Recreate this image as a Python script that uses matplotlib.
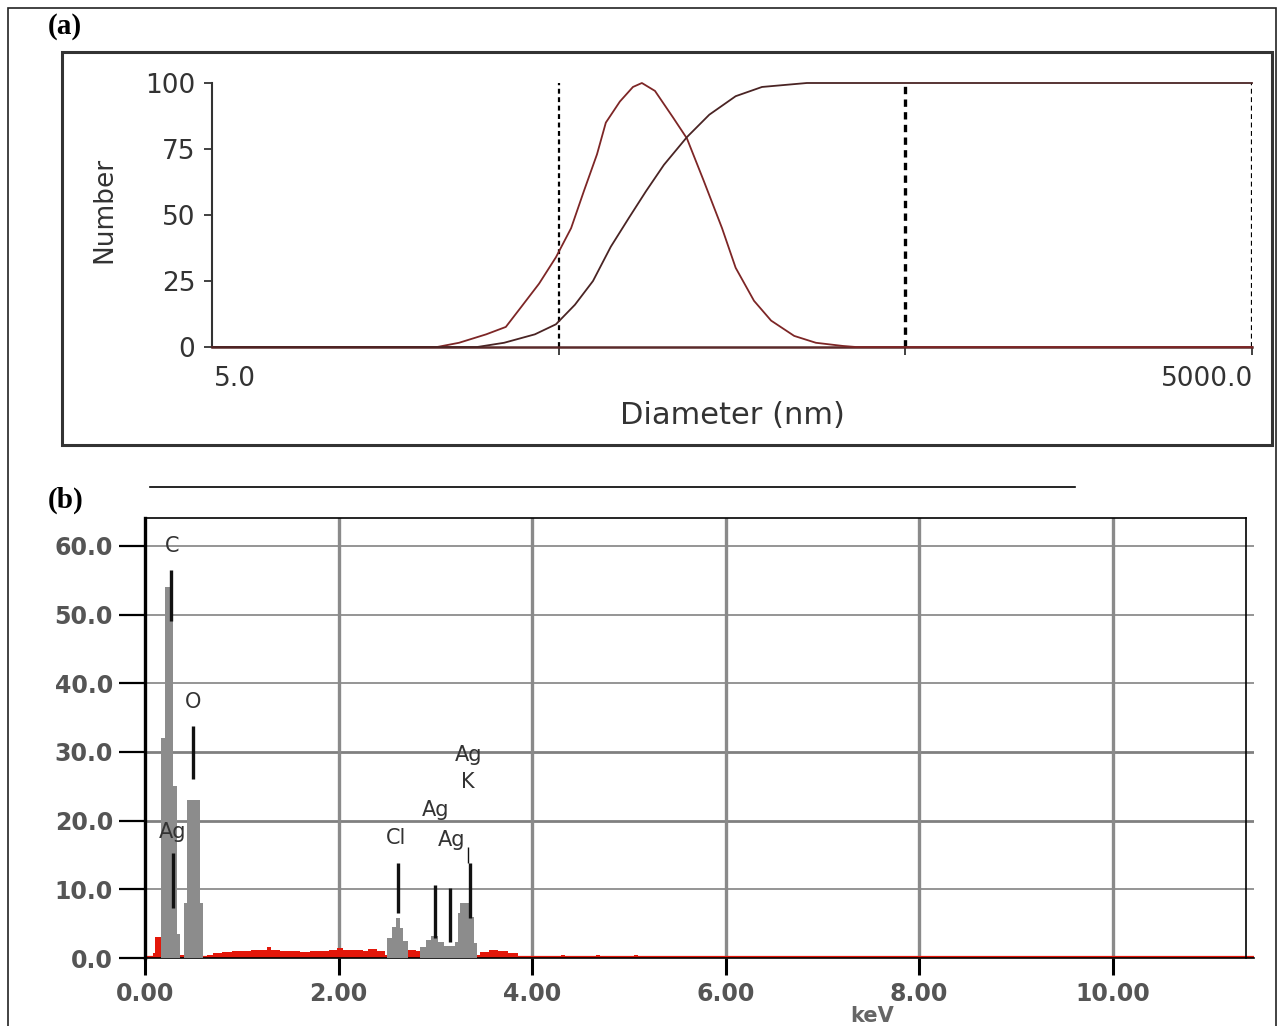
import matplotlib
matplotlib.use('Agg')
import matplotlib.pyplot as plt
from matplotlib.patches import Rectangle
from matplotlib.lines import Line2D
from matplotlib.ticker import NullLocator
import numpy as np

W, H, DPI = 1278, 1026, 100

# ---------------- data: (a) particle size distribution ----------------
dist_nm = [5.0, 22.3, 25.8, 30.9, 35.2, 38.9, 43.9, 49.1, 54.3, 59.1, 64.5, 68.4, 75.1,
           81.9, 86.9, 94.8, 106.8, 117.2, 131, 148, 162, 183, 205, 239, 276, 330, 360,
           5000.0]
dist_num = [0, 0, 1.6, 4.8, 7.6, 15, 24, 34, 45, 59, 73, 85, 93,
            98.5, 100, 97, 87, 79, 63, 45, 30, 17.5, 10, 4.2, 1.6, 0.4, 0, 0]
cum_nm = [5.0, 29.1, 34.8, 42.7, 49.1, 55.7, 62.8, 70.7, 79.8, 89.3, 100.6, 117.2,
          136, 162, 193, 260, 5000.0]
cum_pct = [0, 0, 1.6, 4.8, 8.6, 16, 25, 38, 49, 59, 69, 79.5, 88, 95, 98.5, 100, 100]
size_marks_nm = [50, 500, 5000]
a_yticks = [0, 25, 50, 75, 100]

# ---------------- data: (b) EDS spectrum ----------------
red_keV = [0.00, 0.08, 0.10, 0.17, 0.36, 0.60, 0.64, 0.70, 0.80, 0.90, 1.00, 1.10, 1.20,
           1.26, 1.30, 1.40, 1.50, 1.60, 1.70, 1.80, 1.90, 1.98, 2.05, 2.15, 2.25, 2.30,
           2.40, 2.48, 2.72, 2.80, 2.86, 3.43, 3.46, 3.55, 3.65, 3.75, 3.85, 3.95, 4.30,
           4.34, 4.66, 4.70, 5.05, 5.09, 11.46]
red_counts = [0.0, 0.8, 3.0, 0.6, 0.5, 0.3, 0.5, 0.7, 0.9, 1.0, 1.0, 1.1, 1.2,
              1.6, 1.2, 1.0, 1.0, 0.9, 1.0, 1.0, 1.1, 1.4, 1.2, 1.1, 1.0, 1.3,
              1.0, 0.4, 1.2, 1.0, 0.4, 0.4, 0.9, 1.1, 1.0, 0.8, 0.3, 0.15, 0.5,
              0.1, 0.5, 0.1, 0.5, 0.1, 0.1]
gray_left = [0.17, 0.21, 0.29, 0.33, 0.40, 0.43, 0.57, 2.50, 2.55, 2.59, 2.64, 2.67,
             2.84, 2.90, 2.96, 3.03, 3.09, 3.20, 3.23, 3.26, 3.36, 3.40]
gray_right = [0.21, 0.29, 0.33, 0.36, 0.43, 0.57, 0.60, 2.55, 2.59, 2.64, 2.67, 2.72,
              2.90, 2.96, 3.03, 3.09, 3.20, 3.23, 3.26, 3.36, 3.40, 3.43]
gray_height = [32, 54, 25, 3.5, 8, 23, 8, 2.9, 4.5, 5.8, 4.3, 2.5,
               1.6, 2.6, 3.2, 2.4, 1.7, 2.4, 6.5, 8.0, 6.0, 2.2]
mark_keV = [0.265, 0.29, 0.50, 2.61, 3.00, 3.15, 3.36]
mark_lo = [49, 7.3, 26, 6.5, 2.9, 2.4, 5.8]
mark_hi = [56.5, 15.3, 33.7, 13.8, 10.6, 10.2, 13.8]
thin_mark_keV = [3.335]
thin_mark_lo = [13.8]
thin_mark_hi = [16.2]
lbl_text = ['C', 'O', 'Ag', 'Cl', 'Ag', 'Ag', 'K', 'Ag']
lbl_keV = [0.28, 0.50, 0.29, 2.59, 3.17, 3.00, 3.34, 3.34]
lbl_y = [60.0, 37.3, 18.3, 17.5, 17.2, 21.5, 25.6, 29.5]
b_yticks = [0, 10, 20, 30, 40, 50, 60]
b_xticks = [0, 2, 4, 6, 8, 10]
b_xmax_box = 11.38


def fx(x):
    return x / W


def fy(y):
    return 1 - y / H


fig = plt.figure(figsize=(W / DPI, H / DPI), dpi=DPI)
fig.patch.set_facecolor('white')

# outer frame
fig.add_artist(Rectangle((fx(8), fy(1030)), fx(1276) - fx(8), fy(8) - fy(1030),
                         fill=False, lw=1.2, ec='#222222', transform=fig.transFigure))
# panel (a) box
fig.add_artist(Rectangle((fx(62), fy(445)), fx(1272) - fx(62), fy(52) - fy(445),
                         fill=False, lw=2.2, ec='#333333', transform=fig.transFigure))

fig.text(fx(48), fy(26), '(a)', family='Liberation Serif', weight='bold', size=21,
         ha='left', va='center')
fig.text(fx(48), fy(500), '(b)', family='Liberation Serif', weight='bold', size=21,
         ha='left', va='center')
fig.add_artist(Line2D([fx(150), fx(1075)], [fy(487), fy(487)], lw=1.2, color='black',
                      transform=fig.transFigure))

# ---------------- panel (a) ----------------
ax1 = fig.add_axes([fx(212), fy(347), (1252 - 212) / W, (347 - 83) / H])
ax1.set_xscale('log')
ax1.set_xlim(5, 5000)
ax1.set_ylim(0, 100)
for s in ['top', 'right']:
    ax1.spines[s].set_visible(False)
ax1.spines['left'].set_color('#333333')
ax1.spines['left'].set_linewidth(1.5)
ax1.spines['bottom'].set_color('#5a2a2a')
ax1.spines['bottom'].set_linewidth(1.8)

for xm, lw in zip(size_marks_nm, [1.6, 2.4, 1.6]):
    ax1.axvline(xm, color='black', lw=lw, ls=(0, (2.2, 1.6)), zorder=1)

ax1.plot(dist_nm, dist_num, color='#7d2626', lw=1.3, clip_on=False, zorder=3)
ax1.plot(cum_nm, cum_pct, color='#4a2424', lw=1.3, clip_on=False, zorder=3)

ax1.set_yticks(a_yticks)
ax1.set_yticklabels([str(v) for v in a_yticks])
ax1.tick_params(axis='y', length=6, width=1.3, color='#333333', labelsize=19,
                labelcolor='#333333', pad=6)
ax1.set_xticks(size_marks_nm)
ax1.set_xticklabels(['', '', ''])
ax1.xaxis.set_minor_locator(NullLocator())
ax1.tick_params(axis='x', length=6, width=1.3, color='#333333')

fig.text(fx(214), fy(379), '5.0', ha='left', va='center', size=19, color='#333333')
fig.text(fx(1253), fy(379), '5000.0', ha='right', va='center', size=19, color='#333333')
fig.text(fx(732), fy(415), 'Diameter (nm)', ha='center', va='center', size=22,
         color='#333333')
fig.text(fx(104), fy(210), 'Number', ha='center', va='center', size=19,
         color='#333333', rotation=90)

# ---------------- panel (b) ----------------
ax2 = fig.add_axes([fx(145), fy(958), (1254 - 145) / W, (958 - 518) / H])
ax2.set_xlim(0, 11.46)
ax2.set_ylim(0, 64.05)
for s in ['top', 'right']:
    ax2.spines[s].set_visible(False)
ax2.spines['left'].set_linewidth(2.4)
ax2.spines['left'].set_color('black')
ax2.spines['bottom'].set_linewidth(1.2)
ax2.spines['bottom'].set_color('black')

for v in b_yticks[1:]:
    ax2.axhline(v, color='#808080' if v in (20, 30) else '#959595',
                lw=2.0 if v in (20, 30) else 1.4, zorder=0)
for k in b_xticks[1:]:
    ax2.axvline(k, color='#8a8a8a', lw=2.4, zorder=0)

ax2.plot([0, b_xmax_box], [64.05, 64.05], color='black', lw=1.2, clip_on=False, zorder=5)
ax2.plot([b_xmax_box, b_xmax_box], [0, 64.05], color='black', lw=1.2, clip_on=False, zorder=5)

ax2.fill_between(red_keV, red_counts, step='post', color='#e3170a', lw=0, zorder=2)
ax2.axhline(0.15, color='#e3170a', lw=1.6, zorder=2)
ax2.bar(gray_left, gray_height, width=np.subtract(gray_right, gray_left), align='edge',
        color='#8c8c8c', lw=0, zorder=3)
ax2.vlines(mark_keV, mark_lo, mark_hi, color='#111111', lw=2.4, zorder=4)
ax2.vlines(thin_mark_keV, thin_mark_lo, thin_mark_hi, color='#111111', lw=1.0, zorder=4)

for t, kx, ky in zip(lbl_text, lbl_keV, lbl_y):
    ax2.text(kx, ky, t, ha='center', va='center', size=15, color='#333333', zorder=6)

ax2.set_yticks(b_yticks)
ax2.set_yticklabels(['%.1f' % v for v in b_yticks])
ax2.tick_params(axis='y', length=19, width=1.6, color='black', labelsize=17,
                labelcolor='#555555', pad=4)
ax2.set_xticks(b_xticks)
ax2.set_xticklabels(['%.2f' % v for v in b_xticks])
ax2.tick_params(axis='x', length=12, width=2.2, color='black', labelsize=17,
                labelcolor='#555555', pad=5)
for lab in ax2.get_yticklabels() + ax2.get_xticklabels():
    lab.set_fontweight('bold')

fig.text(fx(872), fy(1016), 'keV', ha='center', va='center', size=15, color='#666666',
         weight='bold')

fig.savefig('out.png', dpi=DPI, facecolor='white')
